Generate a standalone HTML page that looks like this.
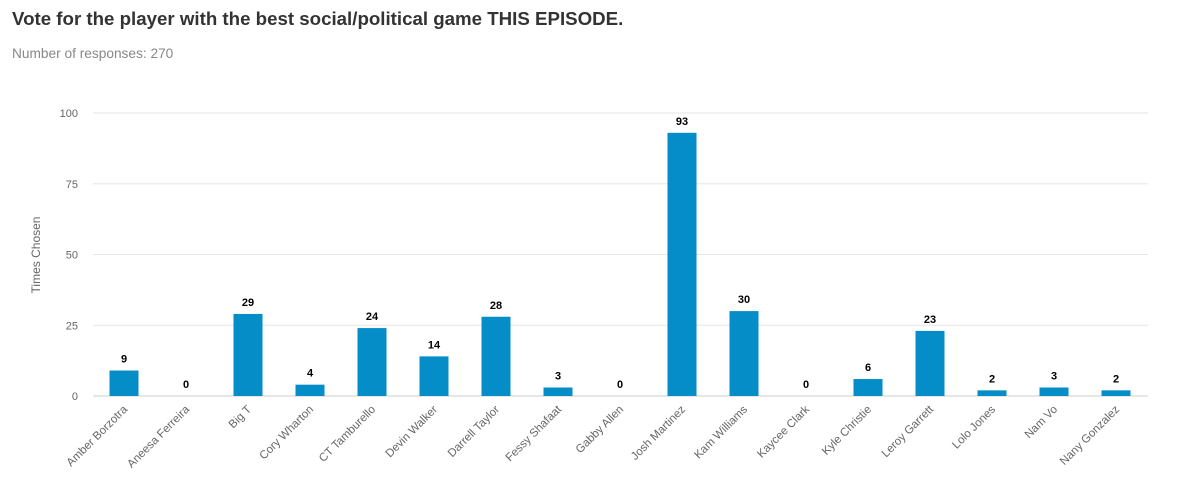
<!DOCTYPE html>
<html><head><meta charset="utf-8"><style>
body{margin:0;background:#fff;font-family:"Liberation Sans",sans-serif}
</style></head><body>
<svg width="1180" height="494" xmlns="http://www.w3.org/2000/svg" font-family="Liberation Sans, sans-serif">
<text x="12" y="25" font-size="18.7" font-weight="bold" fill="#333">Vote for the player with the best social/political game THIS EPISODE.</text>
<text x="12" y="58" font-size="13.7" fill="#888">Number of responses: 270</text>
<text transform="translate(40,255) rotate(-90)" text-anchor="middle" font-size="12" fill="#666">Times Chosen</text>
<g id="grid"></g><g id="bars"></g><g id="labels"></g>
</svg>
<script>
const categories=["Amber Borzotra","Aneesa Ferreira","Big T","Cory Wharton","CT Tamburello","Devin Walker","Darrell Taylor","Fessy Shafaat","Gabby Allen","Josh Martinez","Kam Williams","Kaycee Clark","Kyle Christie","Leroy Garrett","Lolo Jones","Nam Vo","Nany Gonzalez"];
const values=[9,0,29,4,24,14,28,3,0,93,30,0,6,23,2,3,2];
const ticks=[0,25,50,75,100];
const NS="http://www.w3.org/2000/svg";
const x0=93,band=62,baseY=396,topY=113,bw=29;
const yScale=v=>baseY-(v/100)*(baseY-topY);
const xc=i=>x0+band*i+band/2;
function mk(t,a,p){const e=document.createElementNS(NS,t);for(const k in a)e.setAttribute(k,a[k]);p.appendChild(e);return e;}
const g=document.getElementById('grid'),b=document.getElementById('bars'),l=document.getElementById('labels');
ticks.forEach(t=>{
 const ln=mk('line',{x1:x0,x2:1148,y1:yScale(t),y2:yScale(t),stroke:t===0?'#ccc':'#e6e6e6','stroke-width':1},g);
 
 
 const tx=mk('text',{x:78,y:yScale(t)+4,'text-anchor':'end','font-size':11,fill:'#666'},g);
 tx.textContent=t;
 
 
});
categories.forEach((c,i)=>{
 const v=values[i];
 const r=mk('rect',{x:xc(i)-bw/2,y:yScale(v),width:bw,height:baseY-yScale(v),fill:'#058dc7'},b);
 
 
 const vt=mk('text',{x:xc(i),y:yScale(v)-8,'text-anchor':'middle','font-size':11,'font-weight':'bold',fill:'#000'},l);
 vt.textContent=v;
 
 
 const ct=mk('text',{transform:`translate(${xc(i)+4},${baseY+14}) rotate(-45)`,'text-anchor':'end','font-size':11.5,fill:'#666'},l);
 ct.textContent=c;
 
 
});
</script>
</body></html>
